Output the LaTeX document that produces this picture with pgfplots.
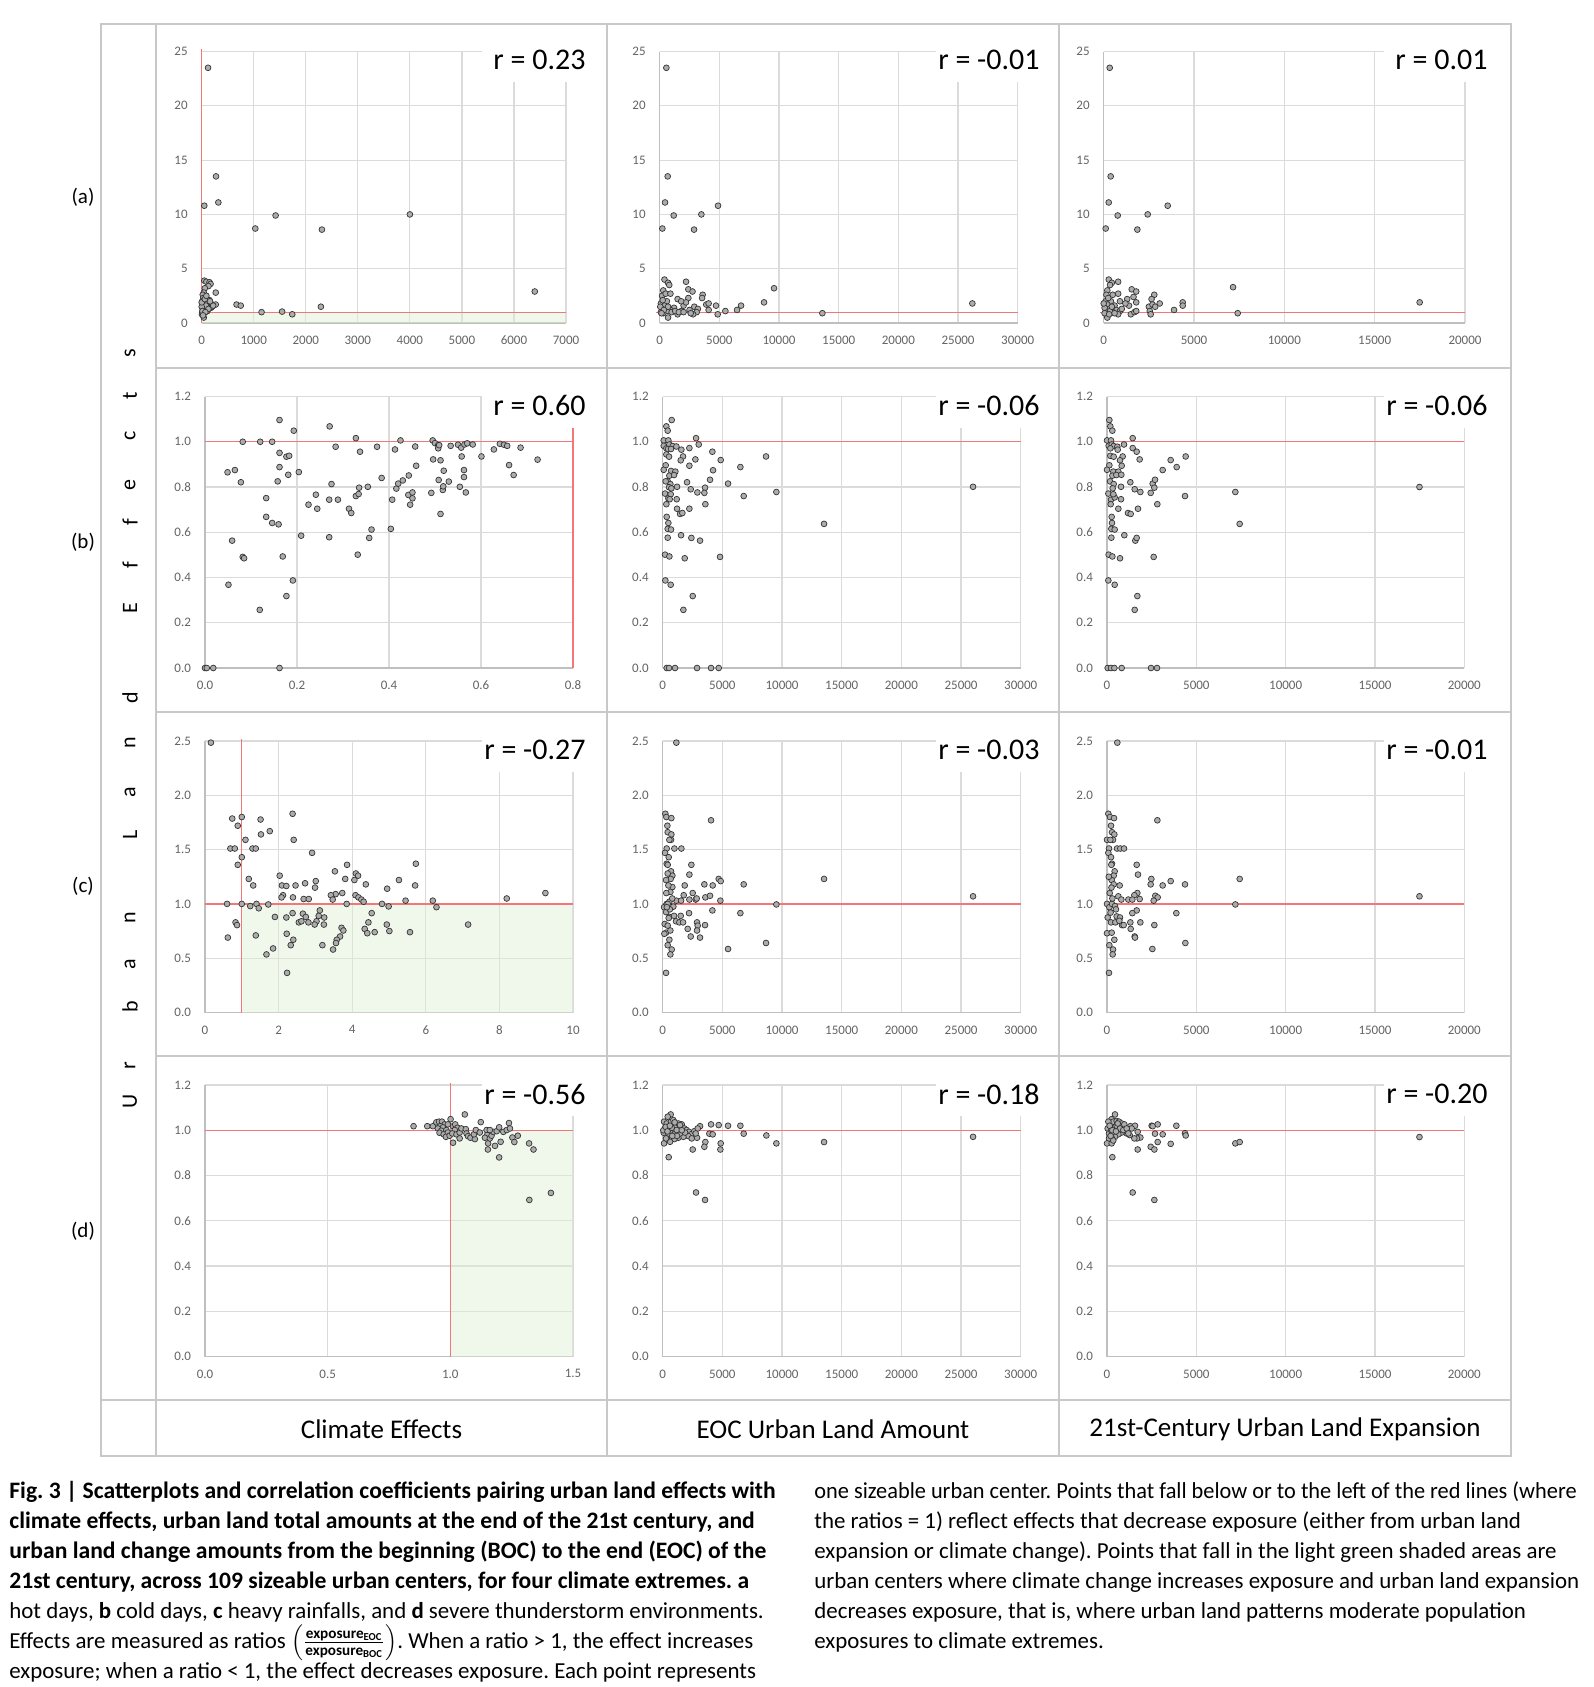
\documentclass[border=0pt]{standalone}
\usepackage{fontspec}
\setmainfont{Carlito}
\usepackage{graphicx}
\usepackage{pgfplots}
\pgfplotsset{compat=1.18}

\definecolor{gridc}{RGB}{219,219,219}
\definecolor{axc}{RGB}{191,191,191}
\definecolor{tickc}{RGB}{100,100,100}
\definecolor{refred}{RGB}{244,118,118}
\definecolor{shade}{RGB}{222,241,212}
\definecolor{markf}{RGB}{172,172,172}
\definecolor{framec}{RGB}{200,200,200}

\pgfplotsset{
  panel/.style={
    scale only axis, anchor=south west, clip=false,
    height=135.75pt,
    axis lines*=left, axis line style={draw=axc, line width=0.7pt, -},
    grid=major, major grid style={draw=gridc, line width=0.6pt},
    major tick length=0pt,
    tick label style={font=\fontsize{6.5}{7}\selectfont, text=tickc},
    /pgf/number format/assume math mode=true,
    /pgf/number format/1000 sep={},
    scaled ticks=false,
    xticklabel style={yshift=-3pt},
    yticklabel style={xshift=-3.5pt},
  },
  yfmt/.style={yticklabel style={/pgf/number format/fixed, /pgf/number format/fixed zerofill, /pgf/number format/precision=1}},
  xfmt/.style={xticklabel style={/pgf/number format/fixed, /pgf/number format/fixed zerofill, /pgf/number format/precision=1}},
  pts/.style={only marks, mark=*, mark size=1.45pt, mark options={fill=markf, draw=black!80, line width=0.35pt}},
  ref/.style={draw=refred, line width=0.6pt, mark=none},
  green/.style={fill=shade, fill opacity=0.45, draw=none, mark=none},
}
\tikzset{px/.style={x=0.5pt,y=-0.5pt}}

\newcommand\rlabel[3]{% right x, top y, text  (pixel units)
  \begin{scope}[px]
  \fill[white] ({#1-113},{#2-14}) rectangle ({#1+2},{#2+31});
  \node[anchor=east, inner sep=0, font=\fontsize{15}{18}\selectfont] at ({#1-9},{#2+9}) {#3};
  \end{scope}
}

\begin{document}
\frenchspacing
\begin{tikzpicture}
\begin{scope}[px]
\useasboundingbox (0,0) rectangle (1594,1687);
\fill[white] (0,0) rectangle (1594,1687);
\end{scope}

% ---------- row (a): hot days ----------
\begin{axis}[panel, at={(100.85pt,-161.5pt)}, width=182.15pt,
  xmin=0, xmax=7000, ymin=0, ymax=25, xtick={0,1000,...,7000}, ytick={0,5,...,25}]
\addplot[green] coordinates {(1,0) (7000,0) (7000,1) (1,1)} -- cycle;
\addplot[ref] coordinates {(0,1) (7000,1)};
\addplot[ref] coordinates {(1,0) (1,25.2)};
\addplot[pts] coordinates {
(122,23.5)(275,13.5)(320,11.1)(50,10.8)(1030,8.7)(1420,9.9)(2310,8.6)(4000,10.0)(6400,2.9)(2290,1.5)
(670,1.7)(750,1.6)(1150,1.0)(1545,1.05)(1740,0.8)
(50,3.9)(90,3.8)(150,3.75)(170,3.6)(130,3.4)(60,3.2)(40,2.8)(20,2.6)(270,2.8)(30,2.3)(150,2.1)(10,2.0)
(100,1.8)(200,1.7)(270,1.7)(60,1.6)(120,1.5)(180,1.4)(20,1.3)(100,1.2)(40,1.1)(10,1.0)(30,0.9)(5,0.8)
(40,0.5)(80,1.6)(200,1.5)(0,1.5)(0,1.9)(15,1.1)(60,2.2)(110,1.1)(130,1.3)(220,1.6)(70,1.0)(25,0.7)
(160,2.0)(90,2.5)};
\end{axis}
\rlabel{595}{51.3}{r = 0.23}

\begin{axis}[panel, at={(329.85pt,-161.5pt)}, width=179pt,
  xmin=0, xmax=30000, ymin=0, ymax=25, xtick={0,5000,...,30000}, ytick={0,5,...,25}]
\addplot[ref] coordinates {(-300,1) (30000,1)};
\addplot[pts] coordinates {
(559,23.5)(670,13.5)(447,11.1)(1173,9.9)(223,8.7)(3492,10.0)(4888,10.8)(2877,8.6)(26200,1.8)(9581,3.2)
(8743,1.9)(13631,0.9)(6816,1.6)(6480,1.2)(5503,1.1)(4720,1.6)(4860,0.8)
(2207,3.8)(2400,3.1)(2750,2.9)(3600,2.6)(3550,2.3)(2400,2.3)(3900,1.7)(4100,1.8)(4100,1.2)(2000,1.6)
(2200,1.9)(1500,2.2)(1800,2.0)(2900,1.5)(3200,1.3)(3100,1.0)(2800,0.8)(1500,0.8)(1800,1.1)(1200,1.4)
(900,1.2)(700,0.5)(400,4.0)(700,3.7)(800,3.5)(300,3.0)(200,2.5)(500,2.7)(900,2.7)(100,1.8)(600,2.0)
(400,1.6)(200,1.3)(100,1.0)(600,1.1)(300,0.9)(1000,1.0)(50,1.5)(250,2.1)(1300,1.1)(1600,1.0)(2500,1.2)
(2600,0.9)(2000,1.0)(700,1.5)(350,1.2)(150,0.9)};
\end{axis}
\rlabel{1049}{51.3}{r = -0.01}

\begin{axis}[panel, at={(551.85pt,-161.5pt)}, width=180.65pt,
  xmin=0, xmax=20000, ymin=0, ymax=25, xtick={0,5000,...,20000}, ytick={0,5,...,25}]
\addplot[ref] coordinates {(-200,1) (20000,1)};
\addplot[pts] coordinates {
(332,23.5)(387,13.5)(277,11.1)(775,9.9)(111,8.7)(2435,10.0)(3542,10.8)(1863,8.6)(7159,3.3)(7417,0.9)
(17490,1.9)(3893,1.2)(4373,1.9)(4373,1.6)(3100,1.8)(2800,2.6)(2650,2.2)(2500,1.5)(2700,1.7)(2850,1.5)
(2550,1.1)(2600,0.8)(1550,3.1)(1800,2.9)(1650,2.4)(1800,1.9)(1300,2.2)(1400,1.6)(1500,0.8)(1700,1.0)
(1800,1.1)(1200,1.8)(280,4.0)(450,3.7)(800,3.8)(350,3.5)(200,3.0)(150,2.6)(500,2.6)(800,2.7)(100,2.0)
(400,2.0)(900,2.0)(200,1.7)(600,1.6)(300,1.3)(700,1.2)(100,1.0)(900,1.1)(800,0.8)(150,0.8)(200,0.5)
(500,1.0)(50,1.4)(0,1.8)(250,2.3)(350,1.1)(600,0.9)(450,1.5)(1000,1.3)(50,0.9)(300,0.8)};
\end{axis}
\rlabel{1497}{51.3}{r = 0.01}

% ---------- row (b): cold days ----------
\begin{axis}[panel, yfmt, xfmt, at={(102.5pt,-334pt)}, width=184pt,
  xmin=0, xmax=0.8, ymin=0, ymax=1.2, xtick={0,0.2,0.4,0.6,0.8}, ytick={0,0.2,0.4,0.6,0.8,1.0,1.2}]
\addplot[ref] coordinates {(0,1) (0.8,1)};
\addplot[ref] coordinates {(0.8,0) (0.8,1.2)};
\addplot[pts] coordinates {
(0.049,0.865)(0.065,0.875)(0.051,0.368)(0.059,0.563)(0.078,0.821)(0.082,1.0)(0.082,0.491)(0.085,0.485)
(0.119,0.257)(0.120,1.0)(0.133,0.751)(0.133,0.668)(0.146,1.0)(0.146,0.641)(0.160,0.635)(0.162,1.096)
(0.162,0.951)(0.162,0.888)(0.158,0.825)(0.177,0.934)(0.183,0.938)(0.181,0.854)(0.169,0.493)(0.177,0.318)
(0.191,0.387)(0.193,1.049)(0.204,0.866)(0.209,0.585)(0.225,0.722)(0.241,0.766)(0.244,0.704)(0.270,0.744)
(0.271,1.068)(0.275,0.813)(0.270,0.578)(0.284,0.978)(0.289,0.744)(0.313,0.704)(0.318,0.685)(0.328,0.760)
(0.334,0.769)(0.335,0.797)(0.328,1.016)(0.337,0.956)(0.332,0.501)(0.354,0.801)(0.357,0.575)(0.362,0.612)
(0.374,0.978)(0.384,0.840)(0.404,0.615)(0.407,0.744)(0.413,0.966)(0.416,0.793)(0.420,0.815)(0.425,1.006)
(0.430,0.829)(0.443,0.851)(0.442,0.765)(0.446,0.722)(0.451,0.776)(0.451,0.750)(0.457,0.979)(0.459,0.894)
(0.492,0.774)(0.495,1.006)(0.496,0.922)(0.500,0.994)(0.507,0.985)(0.507,0.971)(0.509,0.985)(0.508,0.831)
(0.512,0.918)(0.512,0.681)(0.517,0.787)(0.518,0.803)(0.519,0.872)(0.530,0.824)(0.534,0.982)(0.550,0.987)
(0.557,0.974)(0.564,0.988)(0.570,0.993)(0.582,0.988)(0.554,0.801)(0.558,0.935)(0.563,0.875)(0.563,0.844)
(0.567,0.776)(0.601,0.935)(0.628,0.966)(0.641,0.991)(0.650,0.987)(0.657,0.982)(0.661,0.897)(0.671,0.853)
(0.686,0.974)(0.723,0.921)(0,0)(0.004,0)(0.018,0)(0.162,0)};
\end{axis}
\rlabel{595}{396.5}{r = 0.60}

\begin{axis}[panel, yfmt, at={(331.35pt,-334pt)}, width=179pt,
  xmin=0, xmax=30000, ymin=0, ymax=1.2, xtick={0,5000,...,30000}, ytick={0,0.2,0.4,0.6,0.8,1.0,1.2}]
\addplot[ref] coordinates {(0,1) (30000,1)};
\addplot[pts] coordinates {
(754,1.096)(307,1.068)(419,1.049)(84,1.006)(475,1.006)(84,0.982)(307,0.971)(559,0.988)(838,0.981)
(1145,0.979)(447,0.968)(698,0.968)(1564,0.965)(2235,0.972)(2793,1.016)(3017,0.988)(307,0.944)(531,0.934)
(1704,0.935)(1508,0.918)(2737,0.922)(4162,0.956)(4860,0.919)(8659,0.935)(2235,0.894)(251,0.896)(84,0.876)
(698,0.871)(1061,0.868)(559,0.850)(950,0.853)(419,0.825)(642,0.813)(531,0.799)(251,0.825)(1201,0.801)
(726,0.794)(2039,0.821)(2346,0.790)(2905,0.776)(3547,0.797)(3492,0.774)(3966,0.832)(4218,0.874)
(5475,0.815)(6508,0.888)(6788,0.760)(9525,0.778)(13520,0.637)(26006,0.801)(196,0.771)(307,0.724)
(475,0.750)(670,0.768)(587,0.746)(1173,0.746)(3575,0.724)(1201,0.704)(1453,0.681)(1648,0.685)(2235,0.704)
(335,0.668)(475,0.641)(419,0.615)(698,0.612)(419,0.576)(1536,0.587)(2402,0.575)(3128,0.563)(196,0.501)
(559,0.493)(1844,0.485)(4804,0.491)(223,0.387)(670,0.368)(2514,0.318)(1732,0.257)
(335,0)(531,0)(1034,0)(2877,0)(4050,0)(4693,0)};
\end{axis}
\rlabel{1049}{396.5}{r = -0.06}

\begin{axis}[panel, yfmt, at={(553.5pt,-334pt)}, width=178.65pt,
  xmin=0, xmax=20000, ymin=0, ymax=1.2, xtick={0,5000,...,20000}, ytick={0,0.2,0.4,0.6,0.8,1.0,1.2}]
\addplot[ref] coordinates {(0,1) (20000,1)};
\addplot[pts] coordinates {
(131,1.096)(187,1.068)(299,1.049)(0,1.006)(224,1.006)(93,0.982)(261,0.988)(373,0.981)(578,0.978)
(597,0.965)(187,0.971)(951,0.988)(1437,1.016)(1437,0.972)(1660,0.956)(1828,0.922)(187,0.938)(373,0.934)
(877,0.935)(728,0.918)(3563,0.919)(4403,0.935)(3899,0.888)(3116,0.875)(821,0.894)(131,0.896)(0,0.876)
(354,0.868)(634,0.868)(299,0.85)(522,0.853)(802,0.854)(168,0.825)(373,0.813)(317,0.794)
(1306,0.821)(784,0.801)(1549,0.790)(1866,0.778)(2444,0.774)(2556,0.815)(2687,0.832)(2649,0.797)
(2817,0.724)(4366,0.760)(7183,0.778)(7425,0.637)(17490,0.80)
(75,0.771)(224,0.744)(429,0.754)(354,0.768)(205,0.724)(784,0.746)
(634,0.704)(1175,0.685)(1325,0.681)(1735,0.704)(261,0.668)(280,0.641)(243,0.615)(429,0.612)(243,0.576)
(970,0.587)(1586,0.563)(1660,0.575)(93,0.501)(299,0.493)(728,0.485)(2612,0.491)(75,0.387)(429,0.368)
(1698,0.318)(1549,0.257)(37,0)(224,0)(410,0)(821,0)(2463,0)(2799,0)};
\end{axis}
\rlabel{1497}{396.5}{r = -0.06}

% ---------- row (c): heavy rainfalls ----------
\begin{axis}[panel, yfmt, at={(102.5pt,-506.25pt)}, width=184pt,
  xmin=0, xmax=10, ymin=0, ymax=2.5, xtick={0,2,...,10}, ytick={0,0.5,1.0,1.5,2.0,2.5}]
\addplot[green] coordinates {(1,0) (10,0) (10,1) (1,1)} -- cycle;
\addplot[ref] coordinates {(0,1) (10,1)};
\addplot[ref] coordinates {(1,0) (1,2.52)};
\addplot[pts] coordinates {
(0.16,2.485)(0.74,1.786)(1.0,1.80)(1.51,1.777)(0.89,1.72)(2.38,1.83)(1.52,1.64)(1.76,1.67)(1.10,1.59)
(2.41,1.59)(0.69,1.51)(0.81,1.51)(1.29,1.51)(1.38,1.51)(2.91,1.47)(1.0,1.43)(0.89,1.36)(5.73,1.37)
(3.86,1.36)(3.53,1.30)(2.03,1.26)(4.10,1.28)(4.16,1.26)(4.06,1.22)(1.19,1.23)(3.81,1.23)(5.27,1.22)
(3.01,1.21)(1.31,1.17)(2.09,1.17)(2.21,1.165)(2.46,1.17)(2.72,1.19)(4.37,1.18)(5.71,1.17)(2.99,1.15)
(4.95,1.14)(3.73,1.10)(3.55,1.09)(3.42,1.08)(3.47,1.04)(4.09,1.08)(4.17,1.06)(4.25,1.04)(4.31,1.02)
(2.12,1.08)(2.08,1.06)(2.39,1.06)(2.68,1.045)(2.82,1.045)(5.45,1.03)(6.19,1.03)(6.29,0.97)(8.20,1.05)
(9.25,1.10)(0.60,1.0)(1.0,1.0)(1.40,1.0)(1.72,0.995)(3.85,1.0)(4.81,1.0)(4.99,0.977)(1.23,0.98)
(1.46,0.96)(1.90,0.88)(2.21,0.875)(2.38,0.915)(2.66,0.91)(2.74,0.88)(2.55,0.83)(2.62,0.84)(2.81,0.83)
(3.12,0.94)(3.09,0.89)(3.03,0.84)(2.98,0.81)(3.24,0.875)(3.23,0.81)(4.53,0.915)(4.44,0.83)(4.34,0.77)
(4.41,0.73)(4.61,0.74)(4.94,0.81)(5.01,0.75)(5.57,0.74)(7.15,0.81)(0.83,0.83)(0.87,0.805)(3.71,0.78)
(3.76,0.755)(3.67,0.70)(3.58,0.67)(3.56,0.64)(3.48,0.58)(1.38,0.71)(2.22,0.725)(2.40,0.67)(2.33,0.62)
(3.19,0.62)(0.62,0.69)(1.85,0.59)(1.67,0.535)(2.23,0.365)};
\end{axis}
\rlabel{595}{741}{r = -0.27}

\begin{axis}[panel, yfmt, at={(331.35pt,-506.25pt)}, width=179pt,
  xmin=0, xmax=30000, ymin=0, ymax=2.5, xtick={0,5000,...,30000}, ytick={0,0.5,1.0,1.5,2.0,2.5}]
\addplot[ref] coordinates {(0,1) (30000,1)};
\addplot[pts] coordinates {
(1145,2.485)(223,1.83)(307,1.80)(726,1.79)(4050,1.77)(391,1.72)(419,1.66)(726,1.64)(698,1.59)(559,1.59)
(335,1.51)(196,1.47)(978,1.51)(1564,1.51)(503,1.43)(335,1.37)(419,1.36)(2402,1.36)(2235,1.27)
(698,1.30)(810,1.26)(419,1.28)(670,1.23)(279,1.22)(1844,1.17)(3491,1.18)(4190,1.17)(4692,1.23)
(4860,1.21)(6788,1.18)(13520,1.23)(26006,1.07)(810,1.155)(475,1.17)(642,1.11)(2514,1.10)(1760,1.08)
(2235,1.04)(2765,1.04)(2849,1.05)(3575,1.06)(3966,1.075)(4832,1.03)(1145,1.03)(1536,1.03)(9525,0.995)
(112,0.97)(335,1.0)(559,1.02)(894,0.975)(2207,0.915)(4162,0.94)(6508,0.915)(279,0.925)(559,0.88)
(950,0.89)(1508,0.89)(1117,0.84)(1397,0.83)(1704,0.83)(2095,0.77)(2877,0.83)(2933,0.80)(3547,0.805)
(2877,0.755)(2346,0.70)(3128,0.69)(168,0.815)(419,0.80)(279,0.735)(140,0.725)(642,0.755)(559,0.67)
(419,0.62)(754,0.58)(642,0.535)(5475,0.585)(8659,0.64)(279,0.365)(420,1.0)(600,0.95)(300,1.1)
(800,1.05)(500,0.87)(350,0.97)};
\end{axis}
\rlabel{1049}{741}{r = -0.03}

\begin{axis}[panel, yfmt, at={(553.5pt,-506.25pt)}, width=178.65pt,
  xmin=0, xmax=20000, ymin=0, ymax=2.5, xtick={0,5000,...,20000}, ytick={0,0.5,1.0,1.5,2.0,2.5}]
\addplot[ref] coordinates {(0,1) (20000,1)};
\addplot[pts] coordinates {
(578,2.485)(75,1.83)(168,1.80)(392,1.79)(2818,1.77)(224,1.72)(280,1.66)(410,1.64)(336,1.59)(0,1.59)
(187,1.59)(112,1.51)(560,1.51)(746,1.51)(951,1.51)(75,1.47)(224,1.43)(280,1.37)(243,1.36)(1661,1.36)
(1735,1.27)(429,1.30)(373,1.26)(261,1.22)(373,1.18)(709,1.17)(2482,1.23)(2444,1.18)(3564,1.21)
(3116,1.17)(4366,1.18)(7427,1.23)(17490,1.07)(1698,1.10)(1530,1.08)(1829,1.045)(1194,1.04)(1418,1.04)
(2706,1.075)(2836,1.06)(2612,1.03)(634,1.07)(802,1.04)(7184,0.995)(0,1.0)(131,0.97)(280,1.0)(448,0.98)
(3881,0.915)(1661,0.94)(1418,0.915)(37,0.875)(224,0.83)(541,0.885)(728,0.875)(467,0.83)(840,0.805)
(933,0.805)(690,0.845)(1306,0.83)(1866,0.83)(1325,0.77)(2650,0.805)(1549,0.70)(1567,0.69)(2538,0.585)
(4385,0.64)(0,0.73)(261,0.735)(131,0.62)(336,0.58)(317,0.535)(410,0.67)(112,0.365)(150,1.1)(300,1.05)
(200,0.92)(500,0.95)(100,1.25)(250,1.15)};
\end{axis}
\rlabel{1497}{741}{r = -0.01}

% ---------- row (d): severe thunderstorm environments ----------
\begin{axis}[panel, yfmt, xfmt, at={(102.5pt,-678.25pt)}, width=184pt,
  xmin=0, xmax=1.5, ymin=0, ymax=1.2, xtick={0,0.5,1.0,1.5}, ytick={0,0.2,0.4,0.6,0.8,1.0,1.2}]
\addplot[green] coordinates {(1,0) (1.5,0) (1.5,1) (1,1)} -- cycle;
\addplot[ref] coordinates {(0,1) (1.5,1)};
\addplot[ref] coordinates {(1,0) (1,1.21)};
\addplot[pts] coordinates {
(0.850,1.018)(0.906,1.018)(0.929,1.018)(1.059,1.070)(1.001,1.049)(1.124,1.036)(1.239,1.032)
(0.943,1.035)(0.954,1.038)(0.966,1.038)(0.977,1.026)(0.959,1.018)(0.970,1.013)(0.949,1.008)(0.963,0.998)
(0.984,1.001)(0.956,0.989)(0.973,0.982)(0.990,0.990)(0.982,0.971)(0.997,0.976)(0.990,1.026)(1.011,1.018)
(1.020,1.026)(1.029,1.011)(1.018,1.001)(1.008,0.986)(1.025,0.982)(1.038,0.990)(1.045,1.008)(1.063,1.005)
(1.066,0.986)(1.072,0.974)(1.038,0.964)(1.011,0.945)(1.082,0.967)(1.100,0.961)(1.096,0.982)(1.104,1.001)
(1.120,0.990)(1.148,1.001)(1.150,0.979)(1.141,0.967)(1.154,0.942)(1.161,0.964)(1.168,0.976)(1.175,0.993)
(1.189,0.996)(1.199,1.013)(1.216,0.993)(1.230,1.001)(1.243,1.008)(1.161,1.001)(1.182,0.931)(1.205,0.949)
(1.153,0.915)(1.199,0.880)(1.253,0.968)(1.261,0.948)(1.275,0.976)(1.321,0.942)(1.339,0.915)(1.322,0.692)
(1.410,0.723)};
\end{axis}
\rlabel{595}{1085}{r = -0.56}

\begin{axis}[panel, yfmt, at={(331.35pt,-678.25pt)}, width=179pt,
  xmin=0, xmax=30000, ymin=0, ymax=1.2, xtick={0,5000,...,30000}, ytick={0,0.2,0.4,0.6,0.8,1.0,1.2}]
\addplot[ref] coordinates {(0,1) (30000,1)};
\addplot[pts] coordinates {
(670,1.070)(3128,1.018)(4050,1.026)(4692,1.023)(5475,1.020)(6508,1.020)(6788,0.985)(8687,0.977)
(9525,0.942)(13520,0.948)(26006,0.971)(3910,0.985)(4190,0.982)(3575,0.948)(3491,0.927)(4860,0.942)
(4832,0.915)(2514,0.915)(503,0.881)(2793,0.725)(3547,0.692)(112,1.038)(196,1.008)(84,0.989)(112,0.942)
(335,0.964)(531,0.979)(698,0.996)(894,1.008)(1089,1.023)(1313,1.030)(1592,1.026)(1815,1.008)(2011,1.001)
(2207,0.993)(2374,0.982)(2151,0.974)(1732,0.971)(1313,0.967)(978,0.961)(614,0.949)(475,0.986)(754,1.011)
(1033,0.986)(1452,0.986)(1871,0.990)(2654,0.996)(2933,1.008)(2877,0.967)(2765,0.986)(2430,0.964)
(335,1.030)(698,1.038)(419,1.060)(894,1.045)(1452,1.023)(1173,1.001)(279,0.964)(50,1.0)(250,1.015)
(600,1.02)(1000,1.035)(1200,0.975)(1600,1.0)(400,0.995)(800,0.975)};
\end{axis}
\rlabel{1049}{1085}{r = -0.18}

\begin{axis}[panel, yfmt, at={(553.5pt,-678.25pt)}, width=178.65pt,
  xmin=0, xmax=20000, ymin=0, ymax=1.2, xtick={0,5000,...,20000}, ytick={0,0.2,0.4,0.6,0.8,1.0,1.2}]
\addplot[ref] coordinates {(0,1) (20000,1)};
\addplot[pts] coordinates {
(448,1.070)(261,1.049)(355,1.038)(541,1.041)(672,1.038)(821,1.030)(970,1.026)(1306,1.018)(1567,1.020)
(1381,1.008)(1717,0.993)(1866,0.968)(1679,0.964)(1530,0.964)(1269,0.979)(1101,0.986)(821,0.990)
(634,0.982)(448,0.971)(261,0.967)(112,0.964)(0,0.942)(261,0.942)(299,0.881)(75,1.038)(37,1.008)
(112,0.986)(224,1.001)(410,1.008)(541,1.020)(728,1.008)(914,1.001)(1101,1.008)(1194,0.986)
(1717,0.915)(2444,0.927)(2650,0.915)(2500,1.020)(2556,1.018)(2836,1.026)(2687,0.985)(3116,0.982)
(2836,0.948)(3564,0.940)(3881,1.020)(4366,0.987)(4404,0.977)(7184,0.942)(7427,0.948)(17490,0.97)
(1437,0.725)(2650,0.692)(150,1.02)(300,1.0)(500,0.995)(600,1.03)(350,0.955)(200,0.975)};
\end{axis}
\rlabel{1497}{1085}{r = -0.20}

\begin{scope}[px]
% ---------- table frame ----------
\begin{scope}[draw=framec, line width=1pt]
\draw (101,24) rectangle (1511,1456);
\draw (156,24) -- (156,1456);
\draw (607,24) -- (607,1456);
\draw (1059,24) -- (1059,1456);
\foreach \yy in {368,712,1056} \draw (156,\yy) -- (1511,\yy);
\draw (101,1400) -- (1511,1400);
\end{scope}

% row labels
\foreach \yy/\lab in {197/(a),542/(b),886/(c),1231/(d)}
  \node[font=\fontsize{10.5}{12}\selectfont] at (83,\yy) {\lab};
% vertical label
\foreach \yy/\ch in {1101/U,1066/r,1007/b,964/a,918/n,835/L,792/a,743/n,698/d,608/E,565/f,522/f,485/e,436/c,396/t,353/s}
  \node[rotate=90, font=\fontsize{11}{12}\selectfont, inner sep=0] at (130,\yy) {\ch};
% column labels
\node[font=\fontsize{13.5}{15}\selectfont] at (381.5,1429) {Climate Effects};
\node[font=\fontsize{13.5}{15}\selectfont] at (833,1429) {EOC Urban Land Amount};
\node[font=\fontsize{13.5}{15}\selectfont] at (1285,1429) {21st-Century Urban Land Expansion};

% caption
\begin{scope}[every node/.style={anchor=base west, inner sep=0, font=\fontsize{11.45}{13}\selectfont}]
\node[font=\fontsize{11.8}{13}\selectfont\bfseries] at (9,1498) {Fig. 3 | Scatterplots and correlation coefficients pairing urban land effects with};
\node[font=\fontsize{11.8}{13}\selectfont\bfseries] at (9,1528) {climate effects, urban land total amounts at the end of the 21st century, and};
\node[font=\fontsize{11.8}{13}\selectfont\bfseries] at (9,1558) {urban land change amounts from the beginning (BOC) to the end (EOC) of the};
\node[font=\fontsize{11.8}{13}\selectfont\bfseries] at (9,1588) {21st century, across 109 sizeable urban centers, for four climate extremes. a};
\node at (9,1618) {hot days, \textbf{b} cold days, \textbf{c} heavy rainfalls, and \textbf{d} severe thunderstorm environments.};
\node at (9,1648) {Effects are measured as ratios $\left(\frac{\mbox{\fontsize{7.6}{8}\selectfont\bfseries exposure\textsubscript{EOC}}}{\mbox{\fontsize{7.6}{8}\selectfont\bfseries exposure\textsubscript{BOC}}}\right)$. When a ratio > 1, the effect increases};
\node at (9,1678) {exposure; when a ratio < 1, the effect decreases exposure. Each point represents};
\node at (814,1498) {\scalebox{0.975}[1]{one sizeable urban center. Points that fall below or to the left of the red lines (where}};
\node at (814,1528) {the ratios = 1) reflect effects that decrease exposure (either from urban land};
\node at (814,1558) {expansion or climate change). Points that fall in the light green shaded areas are};
\node at (814,1588) {urban centers where climate change increases exposure and urban land expansion};
\node at (814,1618) {decreases exposure, that is, where urban land patterns moderate population};
\node at (814,1648) {exposures to climate extremes.};
\end{scope}
\end{scope}
\end{tikzpicture}
\end{document}
